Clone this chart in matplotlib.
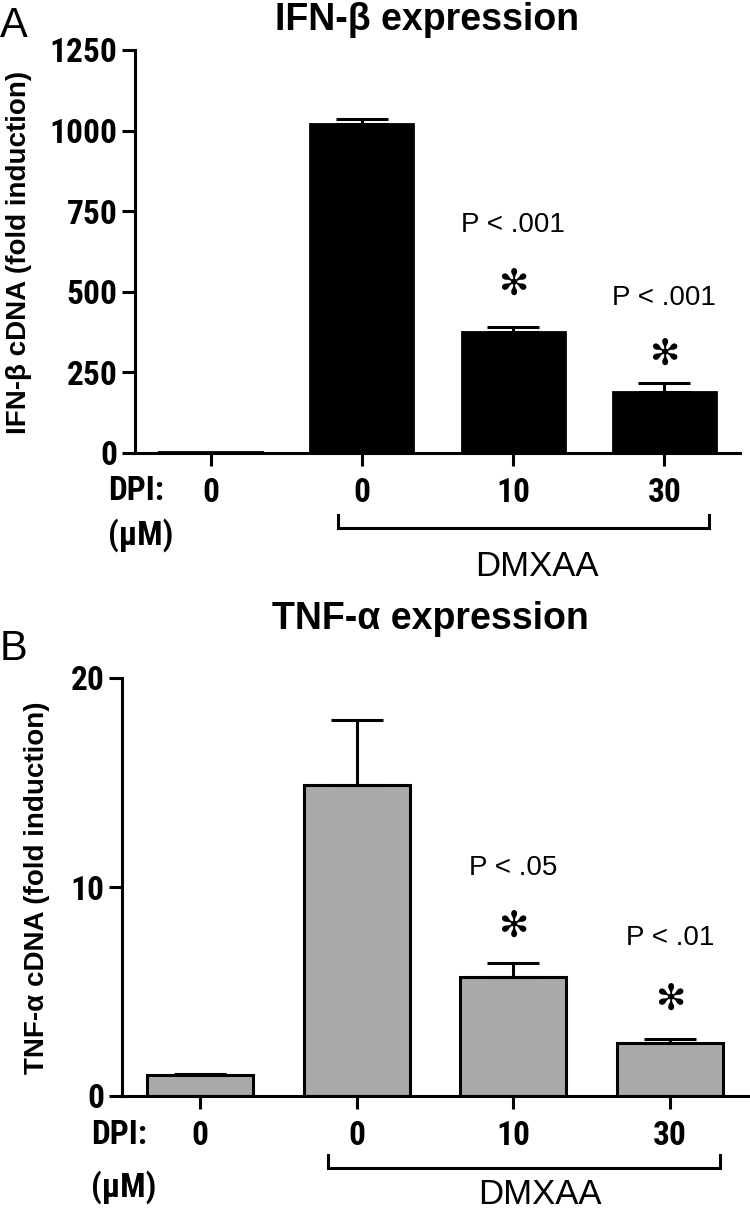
import matplotlib
matplotlib.use("Agg")
import matplotlib.pyplot as plt
import numpy as np
from matplotlib.lines import Line2D
from matplotlib import font_manager as fm

# ---------------- data ----------------
dpi_labels = ["0", "0", "10", "30"]
ifn_values = [4, 1020, 375, 188]
ifn_err = [0, 15, 15, 30]
tnf_values = [1.0, 14.9, 5.7, 2.55]
tnf_err = [0.05, 3.1, 0.65, 0.2]
ifn_yticks = [0, 250, 500, 750, 1000, 1250]
tnf_yticks = [0, 10, 20]
ifn_pvals = [(2, "P < .001", 707, 521), (3, "P < .001", 481, 304)]
tnf_pvals = [(2, "P < .05", 10.9, 8.1), (3, "P < .01", 7.55, 4.6)]

# ---------------- fonts ----------------
REG = "Liberation Sans"
NARROW_PROPS = dict(family=REG)
entries = fm.fontManager.ttflist
names = {f.name for f in entries}
picked = None
for cand in ["Liberation Sans Narrow", "Arial Narrow", "Roboto Condensed",
             "Open Sans Condensed", "Noto Sans Condensed", "DejaVu Sans Condensed"]:
    if cand in names:
        picked = dict(family=cand)
        break
if picked is None:
    for fam in ["Liberation Sans", "Noto Sans", "Roboto", "Open Sans", "DejaVu Sans"]:
        hits = [f for f in entries if f.name == fam and f.stretch in
                ("condensed", "semi-condensed", "extra-condensed", 62.5, 75, 87.5)]
        if hits:
            picked = dict(family=fam, stretch="condensed")
            break
if picked is None:
    for f in entries:
        if "Narrow" in f.name or "Condensed" in f.name:
            picked = dict(family=f.name)
            break
if picked is not None:
    NARROW_PROPS = picked

W, H = 750, 1214
fig = plt.figure(figsize=(W / 100, H / 100), dpi=100)


def fx(px):
    return px / W


def fy(py):
    return 1 - py / H


def make_axes(left, right, top, bottom):
    return fig.add_axes([fx(left), fy(bottom), fx(right - left), (bottom - top) / H])


def narrow_text(obj, size=22):
    obj.set_fontfamily(NARROW_PROPS["family"])
    if "stretch" in NARROW_PROPS:
        obj.set_fontstretch(NARROW_PROPS["stretch"])
    obj.set_fontweight("bold")
    obj.set_fontsize(size)


def style(ax, yticks, ylim):
    ax.set_xlim(-0.5, 3.5)
    ax.set_ylim(*ylim)
    for s in ["top", "right"]:
        ax.spines[s].set_visible(False)
    for s in ["left", "bottom"]:
        ax.spines[s].set_linewidth(2.2)
    ax.set_yticks(yticks)
    ax.set_xticks(range(4))
    ax.set_xticklabels(dpi_labels)
    ax.tick_params(axis="both", length=9.5, width=2.2, direction="out")
    ax.tick_params(axis="y", pad=3)
    ax.tick_params(axis="x", pad=8)
    for lab in ax.get_xticklabels() + ax.get_yticklabels():
        narrow_text(lab, 24)


x = np.arange(4)
BW = 0.68
STAR = "\u273b"

# ---------------- panel A ----------------
axA = make_axes(135, 740, 50, 453)
axA.bar(x, ifn_values, width=BW, color="black", edgecolor="black", linewidth=2)
axA.errorbar(x[1:], ifn_values[1:], yerr=[np.zeros(3), ifn_err[1:]], fmt="none",
             ecolor="black", elinewidth=2.2, capsize=18.5, capthick=2.2)
style(axA, ifn_yticks, (0, 1250))
for xi, txt, yp, ya in ifn_pvals:
    axA.text(xi, yp, txt, ha="center", va="center", fontsize=20, family=REG)
    axA.text(xi, ya, STAR, ha="center", va="center", fontsize=26, family="DejaVu Sans")

# ---------------- panel B ----------------
axB = make_axes(122, 748, 678, 1096)
axB.bar(x, tnf_values, width=BW, color="#a9a9a9", edgecolor="black", linewidth=2.2)
axB.errorbar(x, tnf_values, yerr=[np.zeros(4), tnf_err], fmt="none",
             ecolor="black", elinewidth=2.2, capsize=18.5, capthick=2.2)
style(axB, tnf_yticks, (0, 20))
for xi, txt, yp, ya in tnf_pvals:
    axB.text(xi, yp, txt, ha="center", va="center", fontsize=20, family=REG)
    axB.text(xi, ya, STAR, ha="center", va="center", fontsize=26, family="DejaVu Sans")

# ---------------- titles & labels ----------------
fig.text(fx(0), fy(37), "A", fontsize=30, family=REG, ha="left", va="baseline")
fig.text(fx(0), fy(660), "B", fontsize=30, family=REG, ha="left", va="baseline")
fig.text(fx(427), fy(30), "IFN-\u03b2 expression", fontsize=27, fontweight="bold",
         family=REG, ha="center", va="baseline")
fig.text(fx(430), fy(629), "TNF-\u03b1 expression", fontsize=27, fontweight="bold",
         family=REG, ha="center", va="baseline")
fig.text(fx(19), fy(252), "IFN-\u03b2 cDNA (fold induction)", rotation=90, fontsize=20,
         fontweight="bold", family=REG, ha="center", va="center")
fig.text(fx(37), fy(888), "TNF-\u03b1 cDNA (fold induction)", rotation=90, fontsize=20,
         fontweight="bold", family=REG, ha="center", va="center")

# DPI rows
for left, ydpi, yum in [(108, 491, 535), (91, 1135, 1187)]:
    t1 = fig.text(fx(left), fy(ydpi), "DPI:", ha="left", va="center")
    t2 = fig.text(fx(left), fy(yum), "(\u03bcM)", ha="left", va="center")
    narrow_text(t1, 24)
    narrow_text(t2, 24)

# brackets and DMXAA
for x0, x1, ytop, ybot, xt, yt in [(338, 709, 515, 528, 537, 567),
                                   (328, 720, 1155, 1168, 540, 1195)]:
    fig.add_artist(Line2D([fx(x0), fx(x0), fx(x1), fx(x1)],
                          [fy(ytop), fy(ybot), fy(ybot), fy(ytop)],
                          color="black", linewidth=2.2, solid_joinstyle="miter"))
    fig.text(fx(xt), fy(yt), "DMXAA", fontsize=25, family=REG, ha="center", va="center")

fig.savefig("out.png", dpi=100)
